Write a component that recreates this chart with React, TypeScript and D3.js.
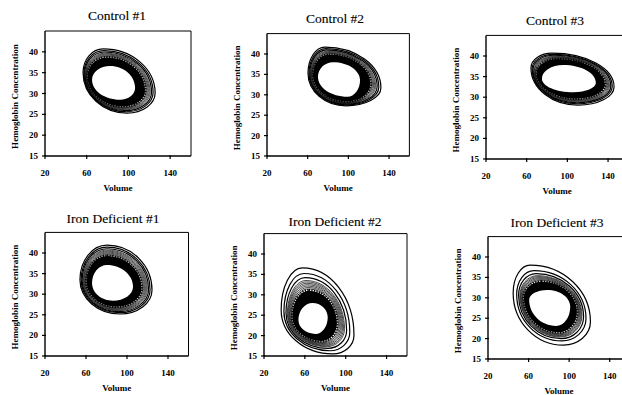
import * as React from 'react';
import * as d3 from 'd3';

// panel titles, in reading order
const titles = ['Control #1', 'Control #2', 'Control #3', 'Iron Deficient #1', 'Iron Deficient #2', 'Iron Deficient #3'];

const xTicks = [20, 60, 100, 140];
const yTicks = [15, 20, 25, 30, 35, 40];
const volumeDomain = [20, 160];
const hgbDomain = [15, 45];

// extreme points [volume, hemoglobin] of outermost contour: top, right, bottom, left
const outerContours = [
  [[75.7, 40.7], [125.6, 30.1], [98.7, 25.3], [56.5, 35.0]],
  [[77, 41.7], [132, 31.7], [97.7, 27.3], [60.3, 35.3]],
  [[84.9, 40.7], [145.9, 32.5], [110.5, 28.1], [64.2, 37.1]],
  [[80.5, 41.9], [124.4, 31], [93.2, 25.2], [54.1, 33.5]],
  [[57.6, 36.6], [108.1, 20.1], [87.3, 15.5], [36.8, 26.3]],
  [[61.6, 38], [121, 24.1], [94.3, 18.4], [44.8, 31.2]],
];

// extreme points of the empty centre (innermost contour)
const holeContours = [
  [[82.4, 36.6], [106.4, 31.3], [92, 28.5], [65.1, 33.3]],
  [[84.9, 38], [111.5, 33.6], [99.2, 29.5], [70.1, 34.4]],
  [[96, 37.8], [128, 33.5], [106, 31.2], [75, 34.5]],
  [[80.5, 37.1], [105.9, 31.8], [86.3, 28.4], [65.9, 32.7]],
  [[67.5, 28], [82.4, 24.5], [70.5, 20.4], [53.7, 23.8]],
  [[78.4, 31.9], [101.1, 27.8], [87.2, 23.1], [60.6, 29.5]],
];

// how far out (0 = centre, 1 = outermost) the solid black band reaches
const bandLevels = [0.5, 0.5, 0.5, 0.45, 0.35, 0.33];

// dense thin contour lines
const fineLevels = [
  [0.55, 0.6, 0.65, 0.7, 0.75],
  [0.55, 0.6, 0.65, 0.7, 0.75],
  [0.55, 0.6, 0.65, 0.7, 0.75],
  [0.5, 0.55, 0.6, 0.65, 0.7, 0.75],
  [0.4, 0.44, 0.48, 0.52, 0.56, 0.6, 0.64],
  [0.38, 0.42, 0.46, 0.5, 0.54, 0.58],
];

// sparse outer contour lines
const outerLevels = [
  [0.82, 0.9, 1],
  [0.82, 0.9, 1],
  [0.82, 0.9, 1],
  [0.82, 0.9, 1],
  [0.72, 0.84, 1],
  [0.66, 0.78, 1],
];

const frames = [
  { x: 45, y: 31, w: 146, h: 125, tx: 117, ty: 20 },
  { x: 267, y: 33.6, w: 142.4, h: 122.4, tx: 335, ty: 23 },
  { x: 486, y: 35.4, w: 142.4, h: 123.6, tx: 555, ty: 25 },
  { x: 45, y: 232.4, w: 143.5, h: 123.6, tx: 113, ty: 223 },
  { x: 264, y: 233.6, w: 143, h: 122.4, tx: 335, ty: 226 },
  { x: 488, y: 236.6, w: 142, h: 122.4, tx: 557, ty: 227 },
];

const serif = '"Liberation Serif", "DejaVu Serif", serif';
const K = 0.5523;

function ring(sx, sy, hole, outer, t, p) {
  const pts = hole.map((hp, i) => [
    sx(hp[0] + t * (outer[i][0] - hp[0])),
    sy(hp[1] + t * (outer[i][1] - hp[1])),
  ]);
  const [T, R, B, L] = pts;
  p.moveTo(T[0], T[1]);
  p.bezierCurveTo(T[0] + K * (R[0] - T[0]), T[1], R[0], R[1] - K * (R[1] - T[1]), R[0], R[1]);
  p.bezierCurveTo(R[0], R[1] + K * (B[1] - R[1]), B[0] + K * (R[0] - B[0]), B[1], B[0], B[1]);
  p.bezierCurveTo(B[0] - K * (B[0] - L[0]), B[1], L[0], L[1] + K * (B[1] - L[1]), L[0], L[1]);
  p.bezierCurveTo(L[0], L[1] - K * (L[1] - T[1]), T[0] - K * (T[0] - L[0]), T[1], T[0], T[1]);
  p.closePath();
  return p;
}

function Panel({ i }) {
  const f = frames[i];
  const sx = d3.scaleLinear().domain(volumeDomain).range([f.x, f.x + f.w]);
  const sy = d3.scaleLinear().domain(hgbDomain).range([f.y + f.h, f.y]);
  const hole = holeContours[i];
  const outer = outerContours[i];

  const band = d3.path();
  ring(sx, sy, hole, outer, bandLevels[i], band);
  ring(sx, sy, hole, outer, 0, band);
  const bandEdge = ring(sx, sy, hole, outer, bandLevels[i] + 0.02, d3.path());

  const bottom = f.y + f.h;
  return (
    <g>
      <defs>
        <clipPath id={'clip' + i}>
          <rect x={f.x} y={f.y} width={f.w} height={f.h} />
        </clipPath>
      </defs>
      <text x={f.tx} y={f.ty} textAnchor="middle" fontFamily={serif} fontSize={13.5} stroke="#000" strokeWidth={0.12}>{titles[i]}</text>
      <g clipPath={`url(#clip${i})`}>
        {fineLevels[i].map((t, j) => (
          <path key={'f' + j} d={ring(sx, sy, hole, outer, t, d3.path()).toString()} fill="none" stroke="#000" strokeWidth={0.7} />
        ))}
        {outerLevels[i].map((t, j) => (
          <path key={'o' + j} d={ring(sx, sy, hole, outer, t, d3.path()).toString()} fill="none" stroke="#000" strokeWidth={1.2} />
        ))}
        <path d={bandEdge.toString()} fill="none" stroke="#000" strokeWidth={2.2} strokeDasharray="1.2 1.4" />
        <path d={band.toString()} fill="#000" fillRule="evenodd" />
      </g>
      {/* frame */}
      <line x1={f.x} x2={f.x + f.w} y1={f.y} y2={f.y} stroke="#000" strokeWidth={1} />
      <line x1={f.x + f.w} x2={f.x + f.w} y1={f.y} y2={bottom} stroke="#000" strokeWidth={1} />
      <line x1={f.x} x2={f.x} y1={f.y} y2={bottom} stroke="#000" strokeWidth={1.4} />
      <line x1={f.x} x2={f.x + f.w} y1={bottom} y2={bottom} stroke="#000" strokeWidth={1.4} />
      {yTicks.map(v => (
        <g key={'y' + v}>
          <line x1={f.x - 3} x2={f.x + 1} y1={sy(v)} y2={sy(v)} stroke="#000" strokeWidth={1.2} />
          <text x={f.x - 7} y={sy(v) + 3} textAnchor="end" fontFamily={serif} fontWeight="bold" fontSize={9}>{v}</text>
        </g>
      ))}
      {xTicks.map(v => (
        <g key={'x' + v}>
          <line x1={sx(v)} x2={sx(v)} y1={bottom - 1} y2={bottom + 3} stroke="#000" strokeWidth={1.2} />
          <text x={sx(v)} y={bottom + 20} textAnchor="middle" fontFamily={serif} fontWeight="bold" fontSize={9}>{v}</text>
        </g>
      ))}
      <text x={f.x + f.w / 2} y={bottom + 35} textAnchor="middle" fontFamily={serif} fontWeight="bold" fontSize={9}>Volume</text>
      <text transform={`translate(${f.x - 27},${f.y + f.h / 2 + 3}) rotate(-90)`} textAnchor="middle" fontFamily={serif} fontWeight="bold" fontSize={9}>Hemoglobin Concentration</text>
    </g>
  );
}

export default function App() {
  return (
    <svg width={622} height={395} style={{ position: 'absolute', left: 0, top: 0, background: '#fff' }}>
      <rect width={622} height={395} fill="#fff" />
      {titles.map((t, i) => <Panel key={t} i={i} />)}
    </svg>
  );
}
